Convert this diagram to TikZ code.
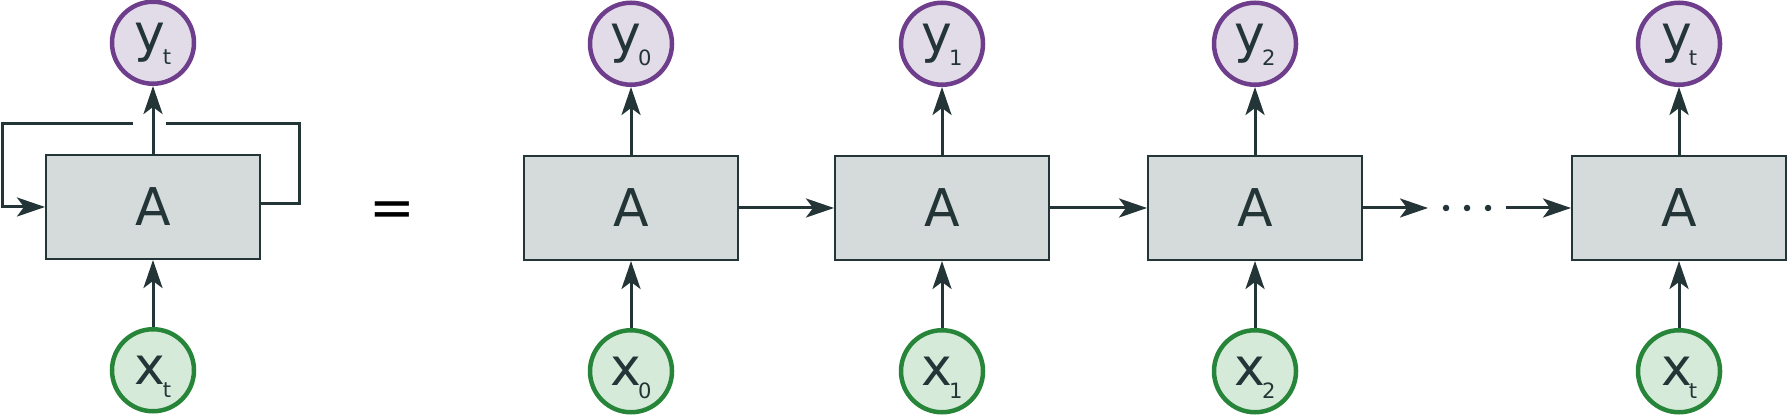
\documentclass[tikz,border=0pt]{standalone}
\usepackage{fontspec}
\setmainfont{DejaVu Sans}
\usepackage{xcolor}
\usepackage{tikz}
\usetikzlibrary{arrows.meta}
\usetikzlibrary{positioning}

\definecolor{cellline}{HTML}{233537}
\definecolor{cellfill}{HTML}{D5DADB}
\definecolor{outfill}{HTML}{E2DCE9}
\definecolor{outdraw}{HTML}{6E3E8C}
\definecolor{infill}{HTML}{D5EAD8}
\definecolor{indraw}{HTML}{27853A}

\newcommand{\lab}[2]{#1\kern-0.03cm\raisebox{-0.13cm}[0pt][0pt]{\fontsize{6}{6}\selectfont #2}}

\begin{document}
\begin{tikzpicture}[->,>={Stealth[length=0.28cm,width=0.19cm,inset=0.07cm,fill=cellline]},line width=0.03cm,color=cellline]
	\tikzstyle{cell}=[draw=cellline, fill=cellfill, line width=0.02cm, minimum width=2.14cm, minimum height=1.04cm, text=cellline, font=\fontsize{14.8}{16}\selectfont]
	\tikzstyle{outp}=[circle, draw=outdraw, fill=outfill, line width=0.045cm, minimum size=0.82cm, inner sep=0pt, text=cellline, font=\fontsize{14.8}{16}\selectfont]
	\tikzstyle{inp}=[outp, draw=indraw, fill=infill]
	\tikzstyle{dot}=[circle, fill=cellline, inner sep=0pt, minimum size=0.065cm]
	\useasboundingbox (0,0) rectangle (17.88,4.16);

	% folded cell
	\node[cell] (A) at (1.53,2.09) {A};
	\node[outp] (y) [above=0.68cm of A] {\lab{y}{t}};
	\node[inp]  (x) [below=0.67cm of A] {\lab{x}{t}};
	\draw (A) -- (y);
	\draw (x) -- (A);
	\coordinate (rr) at (2.99,2.92);
	\coordinate (gr) at (1.66,2.92);
	\coordinate (gl) at (1.33,2.92);
	\coordinate (ll) at (0.02,2.92);
	\draw[-] ([yshift=0.03cm]A.east) -| (rr) -- (gr);
	\draw (gl) -- (ll) |- (A.west);

	\node[text=black, font=\fontsize{15.5}{16}\selectfont] (eq) at (3.92,2.02) {=};

	% unrolled cells
	\node[cell] (A0) at (6.31,2.08) {A};
	\node[cell] (A1) [right=0.95cm of A0] {A};
	\node[cell] (A2) [right=0.97cm of A1] {A};
	\node[cell] (A3) [right=2.08cm of A2] {A};
	\foreach \i/\s in {0/0,1/1,2/2,3/t}{
		\node[outp] (y\i) [above=0.68cm of A\i] {\lab{y}{\s}};
		\node[inp]  (x\i) [below=0.67cm of A\i] {\lab{x}{\s}};
		\draw (A\i) -- (y\i);
		\draw (x\i) -- (A\i);
	}
	\draw (A0) -- (A1);
	\draw (A1) -- (A2);

	\coordinate (d1) at (14.28,2.08);
	\coordinate (d2) at (15.06,2.08);
	\foreach \d/\xx in {1/14.46,2/14.67,3/14.88}
		\node[dot] (dot\d) at (\xx,2.08) {};
	\draw (A2.east) -- (d1);
	\draw (d2) -- (A3.west);
\end{tikzpicture}
\end{document}
